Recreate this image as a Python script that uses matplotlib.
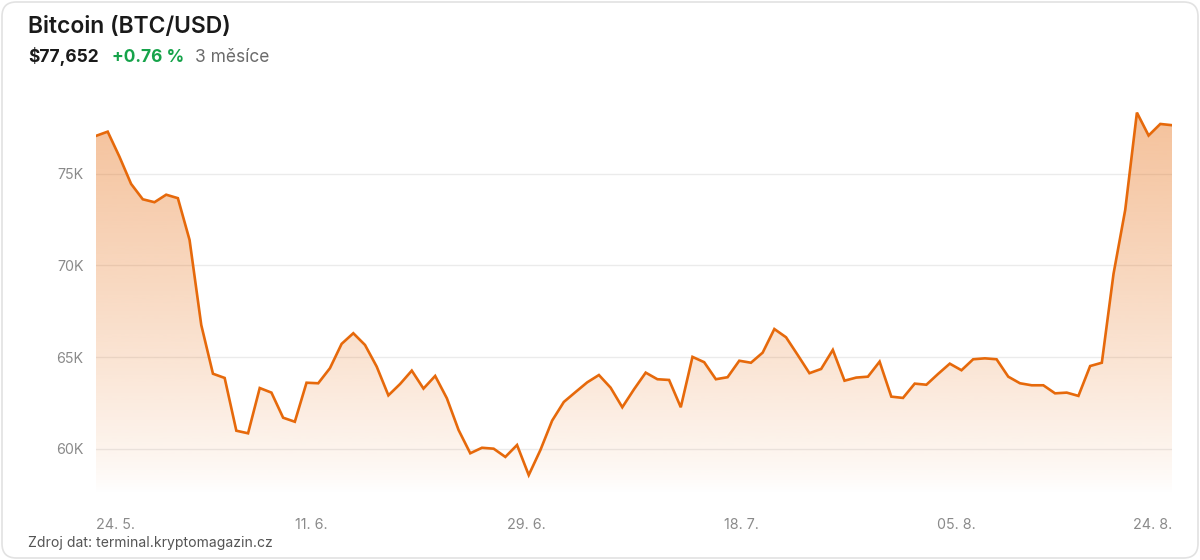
import numpy as np
import pandas as pd
import matplotlib
matplotlib.use('Agg')
import matplotlib.pyplot as plt
import matplotlib.colors as mcolors
from matplotlib.patches import Polygon, FancyBboxPatch

plt.rcParams['font.family'] = ['Inter', 'DejaVu Sans']

# daily close, thousands of USD (24. 5. - 24. 8.)
dates = pd.date_range('2024-05-24', '2024-08-24', freq='D')
price = [77.07, 77.30, 75.94, 74.45, 73.61, 73.45, 73.86, 73.67, 71.39, 66.75,
         64.09, 63.86, 60.98, 60.84, 63.31, 63.06, 61.69, 61.47, 63.60, 63.57,
         64.39, 65.72, 66.30, 65.66, 64.48, 62.91, 63.53, 64.26, 63.28, 63.97,
         62.75, 61.02, 59.75, 60.05, 60.00, 59.55, 60.20, 58.56, 59.93, 61.53,
         62.55, 63.09, 63.62, 64.02, 63.33, 62.26, 63.24, 64.15, 63.79, 63.75,
         62.26, 65.01, 64.72, 63.79, 63.90, 64.80, 64.69, 65.24, 66.53, 66.08,
         65.11, 64.12, 64.35, 65.39, 63.71, 63.88, 63.93, 64.75, 62.84, 62.77,
         63.55, 63.49, 64.08, 64.64, 64.28, 64.88, 64.93, 64.88, 63.93, 63.57,
         63.46, 63.46, 63.02, 63.06, 62.88, 64.51, 64.69, 69.54, 73.03, 78.34,
         77.09, 77.72, 77.652]
yticks = [60, 65, 70, 75]
xlabels = ['24. 5.', '11. 6.', '29. 6.', '18. 7.', '05. 8.', '24. 8.']

title = 'Bitcoin (BTC/USD)'
last_price = '$77,652'
change = '+0.76 %'
period = '3 měsíce'
source = 'Zdroj dat: terminal.kryptomagazin.cz'

orange = '#e6690b'
y0, y1 = 57.5, 79.0
idx = np.arange(len(dates))

fig = plt.figure(figsize=(12, 5.6), dpi=100)
fig.patch.set_facecolor('white')

# card frame
card = FancyBboxPatch((2 / 1200, 2 / 560), 1196 / 1200, 556 / 560,
                      boxstyle='round,pad=0,rounding_size=0.012',
                      transform=fig.transFigure, facecolor='white',
                      edgecolor='#e2e2e2', lw=1.2, mutation_aspect=1200 / 560,
                      zorder=-10)
fig.patches.append(card)

ax = fig.add_axes([96 / 1200, 65.5 / 560, 1076 / 1200, 394 / 560])
ax.set_facecolor('none')

# gradient fill under the line
grad = np.zeros((256, 1, 4))
grad[..., :3] = mcolors.to_rgb(orange)
grad[:, 0, 3] = 0.42 * np.linspace(1, 0, 256) ** 0.8
im = ax.imshow(grad, extent=[idx[0], idx[-1], y0, y1], aspect='auto',
               origin='upper', zorder=1, interpolation='bicubic')
poly = Polygon(np.column_stack([np.r_[idx[0], idx, idx[-1]],
                                np.r_[y0, price, y0]]),
               closed=True, facecolor='none', edgecolor='none')
ax.add_patch(poly)
im.set_clip_path(poly)

ax.plot(idx, price, color=orange, lw=1.9, zorder=3, solid_joinstyle='miter')

ax.set_xlim(idx[0], idx[-1])
ax.set_ylim(y0, y1)
ax.set_yticks(yticks)
ax.set_yticklabels([f'{v}K' for v in yticks])
ax.set_xticks(np.linspace(idx[0], idx[-1], len(xlabels)))
ax.set_xticklabels(xlabels)
ax.grid(axis='y', color='#ebebeb', lw=1, zorder=0)
ax.set_axisbelow(True)
for s in ax.spines.values():
    s.set_visible(False)
ax.tick_params(axis='both', length=0, labelsize=10.3, labelcolor='#8a8a8a')
ax.tick_params(axis='x', pad=17)
ax.tick_params(axis='y', pad=9)
tl = ax.get_xticklabels()
tl[0].set_ha('left')
tl[-1].set_ha('right')

# header and footer
fig.text(28 / 1200, 1 - 27 / 560, title, fontsize=16.5, fontweight='semibold',
         color='#1a1a1a', va='center', ha='left')
fig.text(28 / 1200, 1 - 57 / 560, last_price, fontsize=12.5, fontweight='bold',
         color='#1a1a1a', va='center', ha='left')
fig.text(112 / 1200, 1 - 57 / 560, change, fontsize=12.5, fontweight='bold',
         color='#16a34a', va='center', ha='left')
fig.text(195 / 1200, 1 - 57 / 560, period, fontsize=12.5,
         color='#6b6b6b', va='center', ha='left')
fig.text(28 / 1200, 1 - 543 / 560, source, fontsize=10.1,
         color='#555555', va='center', ha='left')

fig.savefig('out.png', dpi=100, facecolor='white')
